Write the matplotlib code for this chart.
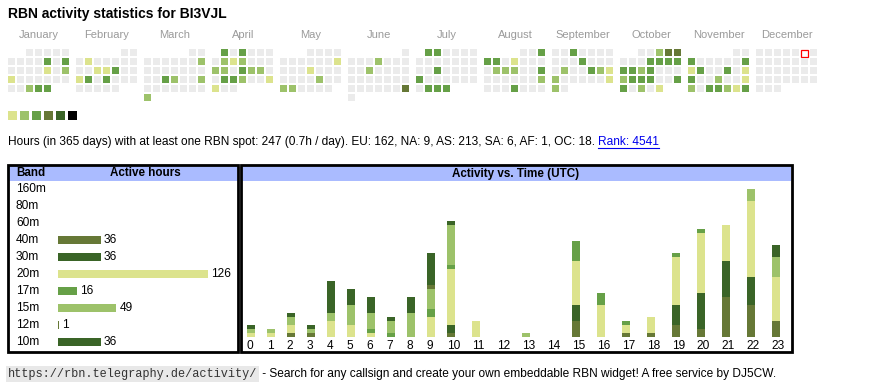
import datetime as dt
import matplotlib
matplotlib.use("Agg")
import matplotlib.pyplot as plt
from matplotlib.patches import Rectangle

plt.rcParams['font.family'] = ['Liberation Sans', 'DejaVu Sans']

# ---- data ----
year = 2025
months = ['January', 'February', 'March', 'April', 'May', 'June', 'July',
          'August', 'September', 'October', 'November', 'December']
today = '2025-12-06'

# days with activity and their level (1..6)
active_dates = [
    '2025-01-10', '2025-01-12', '2025-01-17', '2025-01-19', '2025-01-20', '2025-01-29', '2025-01-30', '2025-01-31',
    '2025-02-04', '2025-02-12', '2025-02-13', '2025-02-14', '2025-02-17', '2025-02-18', '2025-02-20',
    '2025-03-09', '2025-03-19', '2025-03-20', '2025-03-23', '2025-03-31',
    '2025-04-01', '2025-04-03', '2025-04-08', '2025-04-09', '2025-04-10', '2025-04-14', '2025-04-15',
    '2025-04-17', '2025-04-18', '2025-04-19', '2025-04-22', '2025-04-23', '2025-04-24', '2025-04-27', '2025-04-28',
    '2025-05-11', '2025-05-15', '2025-05-23', '2025-05-26', '2025-05-27',
    '2025-06-05', '2025-06-11', '2025-06-29',
    '2025-07-01', '2025-07-02', '2025-07-16', '2025-07-21', '2025-07-29', '2025-07-30', '2025-07-31',
    '2025-08-03', '2025-08-04', '2025-08-05', '2025-08-07', '2025-08-12', '2025-08-13', '2025-08-14',
    '2025-08-17', '2025-08-24', '2025-08-28',
    '2025-09-03', '2025-09-11', '2025-09-16', '2025-09-19', '2025-09-20', '2025-09-21', '2025-09-22',
    '2025-09-28', '2025-09-29',
    '2025-10-03', '2025-10-04', '2025-10-05', '2025-10-09', '2025-10-10', '2025-10-11', '2025-10-12',
    '2025-10-13', '2025-10-14', '2025-10-15', '2025-10-16', '2025-10-20', '2025-10-21', '2025-10-22',
    '2025-10-23', '2025-10-26', '2025-10-27', '2025-10-29', '2025-10-31',
    '2025-11-03', '2025-11-09', '2025-11-10', '2025-11-11', '2025-11-14', '2025-11-16', '2025-11-17',
    '2025-11-20', '2025-11-23', '2025-11-24', '2025-11-26', '2025-11-27', '2025-11-28', '2025-11-29', '2025-11-30',
]
active_levels = [
    3, 3, 1, 2, 1, 2, 3, 3,
    1, 1, 1, 3, 1, 3, 3,
    2, 3, 2, 2, 2,
    3, 3, 2, 1, 2, 2, 2,
    3, 2, 2, 3, 3, 2, 1, 1,
    1, 1, 2, 2, 2,
    2, 2, 4,
    3, 3, 3, 3, 3, 3, 3,
    3, 3, 3, 1, 2, 2, 2,
    3, 2, 3,
    3, 3, 2, 3, 2, 1, 2,
    1, 2,
    2, 4, 4, 3, 3, 3, 3,
    3, 3, 2, 3, 2, 3, 3,
    3, 3, 3, 2, 1,
    3, 3, 1, 3, 3, 1, 3,
    2, 1, 2, 3, 3, 2, 1, 3,
]
level_colors = ['#ebebeb', '#dce38d', '#9dc26a', '#66a047', '#667836', '#3a6427', '#000000']

info_text = ('Hours (in 365 days) with at least one RBN spot: 247 (0.7h / day). '
             'EU: 162, NA: 9, AS: 213, SA: 6, AF: 1, OC: 18. ')
rank_text = 'Rank: 4541'

bands = ['160m', '80m', '60m', '40m', '30m', '20m', '17m', '15m', '12m', '10m']
band_hours = [0, 0, 0, 36, 36, 126, 16, 49, 1, 36]
band_colors = ['#667836', '#3a6427', '#dce38d', '#667836', '#3a6427', '#dce38d',
               '#66a047', '#9dc26a', '#667836', '#3a6427']

# hours per band for each UTC hour (stacked bottom -> top)
hours = list(range(24))
stack_bands = ['40m', '30m', '20m', '17m', '15m', '12m', '10m']
hourly = {
    '40m': [0, 0, 1, 1, 0, 0, 0, 0, 0, 0, 1, 0, 0, 0, 0, 4, 0, 1, 1, 3, 2, 10, 8, 4],
    '30m': [0, 0, 0, 0, 0, 0, 0, 0, 0, 0, 2, 0, 0, 0, 0, 4, 0, 0, 0, 5, 9, 9, 7, 0],
    '20m': [1, 1, 2, 0, 4, 3, 1, 0, 0, 5, 14, 4, 0, 0, 0, 11, 8, 2, 4, 12, 15, 9, 19, 11],
    '17m': [0, 0, 0, 0, 0, 0, 1, 1, 0, 2, 1, 0, 0, 0, 0, 5, 3, 1, 0, 1, 1, 0, 0, 0],
    '15m': [1, 1, 2, 1, 2, 5, 4, 3, 6, 5, 10, 0, 0, 1, 0, 0, 0, 0, 0, 0, 0, 0, 3, 5],
    '12m': [0, 0, 0, 0, 0, 0, 0, 0, 0, 1, 0, 0, 0, 0, 0, 0, 0, 0, 0, 0, 0, 0, 0, 0],
    '10m': [1, 0, 1, 1, 8, 4, 4, 1, 4, 8, 1, 0, 0, 0, 0, 0, 0, 0, 0, 0, 0, 0, 0, 3],
}

footer_url = 'https://rbn.telegraphy.de/activity/'
footer_text = ' - Search for any callsign and create your own embeddable RBN widget! A free service by DJ5CW.'

# ---- figure in pixel units ----
W, H = 870, 390
fig = plt.figure(figsize=(W / 100, H / 100), dpi=100)
base = fig.add_axes([0, 0, 1, 1])
base.set_xlim(0, W)
base.set_ylim(H, 0)
base.axis('off')


def px_axes(x0, y0, x1, y1):
    ax = fig.add_axes([x0 / W, 1 - y1 / H, (x1 - x0) / W, (y1 - y0) / H])
    ax.patch.set_alpha(0)
    ax.axis('off')
    return ax


base.text(8, 14, 'RBN activity statistics for BI3VJL', fontsize=10.0,
          fontweight='bold', va='center', ha='left')

# calendar
lvl = dict(zip(active_dates, active_levels))
for m in range(1, 13):
    first = dt.date(year, m, 1)
    nxt = dt.date(year + (m == 12), m % 12 + 1, 1)
    x0 = 8 + 68 * (m - 1)
    base.text(x0 + 31, 35, months[m - 1], fontsize=8, color='#9a9a9a',
              ha='center', va='center')
    for d in range((nxt - first).days):
        day = first + dt.timedelta(days=d)
        idx = first.weekday() + d
        row, col = divmod(idx, 7)
        key = day.isoformat()
        c = level_colors[lvl.get(key, 0)]
        if key == today:
            base.add_patch(Rectangle((x0 + 9 * col + 0.5, 49 + 9 * row + 0.5), 7, 7,
                                     facecolor='white', edgecolor='red', lw=0.9))
        else:
            base.add_patch(Rectangle((x0 + 9 * col, 49 + 9 * row), 7, 7,
                                     facecolor=c, edgecolor='none'))

for i, c in enumerate(level_colors[1:]):
    base.add_patch(Rectangle((8 + 12 * i, 111), 9, 9, facecolor=c, edgecolor='none'))

# info line + rank link
t = base.text(8, 142, info_text, fontsize=8.6, va='center', ha='left')
fig.canvas.draw()
r = fig.canvas.get_renderer()
bb = t.get_window_extent(r)
tl = base.text(bb.x1, H - 142, rank_text, fontsize=8.6, va='center', ha='left',
               color='#0000ee', transform=None)
bb2 = tl.get_window_extent(r)
base.plot([bb2.x0, bb2.x1], [H - 147.5, H - 147.5], color='#0000ee', lw=0.8, transform=None)

# boxes
hdr = '#aabbff'
base.add_patch(Rectangle((9, 165.5), 229, 15.5, facecolor=hdr, edgecolor='none'))
base.add_patch(Rectangle((242, 165.5), 549, 15.5, facecolor=hdr, edgecolor='none'))
base.add_patch(Rectangle((8.2, 164.5), 230.3, 187.5, facecolor='none', edgecolor='black', lw=2))
base.add_patch(Rectangle((241, 164.5), 550.8, 187.5, facecolor='none', edgecolor='black', lw=2))
base.text(16, 173.5, 'Band', fontsize=8.4, fontweight='bold', va='center')
base.text(145, 173.5, 'Active hours', fontsize=8.4, fontweight='bold', va='center', ha='center')
base.text(516, 173.5, 'Activity vs. Time (UTC)', fontsize=8.4, fontweight='bold',
          va='center', ha='center')

# band table
axb = px_axes(58, 180.5, 236, 350.5)
axb.set_xlim(0, 178 / 1.19)
axb.set_ylim(len(bands) - 0.5, -0.5)
ypos = list(range(len(bands)))
axb.barh(ypos, band_hours, height=0.42, color=band_colors)
for y, b, v in zip(ypos, bands, band_hours):
    base.text(16, 189 + 17 * y, b, fontsize=8.6, va='center', ha='left')
    if v:
        axb.text(v + 2.5, y, str(v), fontsize=8.6, va='center', ha='left')

# hourly stacked bars
cell_w = [20 if h < 10 else 25 for h in hours]
lefts = [247.3 + sum(cell_w[:h]) for h in hours]
axh = px_axes(242, 181, 791, 336.7)
axh.set_xlim(242, 791)
axh.set_ylim(0, (336.7 - 181) / 4)
bottom = [0] * 24
stack_colors = dict(zip(bands, band_colors))
for b in stack_bands:
    vals = hourly[b]
    axh.bar(lefts, vals, width=8, bottom=bottom, align='edge', color=stack_colors[b])
    bottom = [a + v for a, v in zip(bottom, vals)]
for h, x in zip(hours, lefts):
    base.text(x - 0.5, 346, str(h), fontsize=8.6, va='center', ha='left')

# footer
fu = base.text(8, 374, footer_url, fontsize=8.6, family='Liberation Mono', color='#333333',
               va='center', ha='left',
               bbox=dict(boxstyle='square,pad=0.15', fc='#e8e8e8', ec='none'))
fig.canvas.draw()
fb = fu.get_window_extent(r)
base.text(fb.x1 + 2, H - 374, footer_text, fontsize=8.6, va='center', ha='left',
          transform=None)

fig.savefig('out.png', dpi=100)
